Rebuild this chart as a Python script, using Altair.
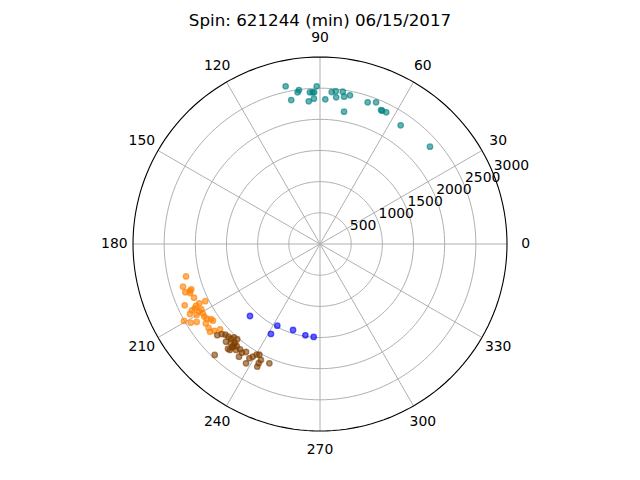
import altair as alt
import pandas as pd
import numpy as np

TITLE = "Spin: 621244 (min) 06/15/2017"

teal_theta = [102.3, 97.8, 98.4, 91.2, 93.8, 92.8, 92.2, 101.3, 94.5, 92.4, 87.9, 85.6, 84.1,
              81.5, 83.7, 80.7, 78.6, 79.7, 71.4, 68.4, 65.5, 65.0, 63.3, 55.8, 41.5]
teal_r = [2589, 2493, 2460, 2530, 2439, 2437, 2435, 2355, 2296, 2333, 2323, 2445, 2462,
          2470, 2368, 2394, 2433, 2157, 2398, 2444, 2362, 2360, 2365, 2302, 2356]

orange_theta = [193.6, 197.3, 199.7, 199.8, 199.4, 200.7, 203.1, 204.4, 206.5, 207.2, 206.2,
                206.5, 207.4, 208.3, 209.1, 209.9, 210.6, 212.1, 213.4, 214.6, 209.5, 211.3,
                212.3, 214.8, 217.0, 219.4, 220.5, 218.6, 215.6, 208.8]
orange_r = [2211, 2302, 2296, 2216, 2189, 2229, 2197, 2383, 2222, 2259, 2157,
            2057, 2313, 2369, 2221, 2283, 2186, 2192, 2177, 2125, 2507, 2428,
            2340, 2232, 2237, 2193, 2108, 2257, 2112, 2173]

brown_theta = [221.6, 222.5, 223.8, 225.3, 226.8, 227.3, 229.0, 226.1, 227.9, 229.5, 230.8,
               228.7, 229.6, 231.6, 232.8, 234.3, 235.6, 234.3, 238.2, 238.3, 239.2, 240.2,
               241.3, 243.0, 242.8, 242.9, 247.0, 226.5, 229.8, 229.3, 229.6]
brown_r = [2204, 2138, 2103, 2092, 2085, 2036, 2024, 2175, 2135, 2124, 2113,
           2236, 2177, 2169, 2121, 2146, 2100, 2226, 2252, 2156, 2106, 2045,
           2025, 2088, 2151, 2210, 2079, 2454, 2156, 2090, 2231]

blue_theta = [225.8, 242.4, 241.4, 252.6, 260.9, 266.1]
blue_r = [1611, 1479, 1644, 1446, 1483, 1495]

series_names = ["orange", "brown", "blue", "teal"]
series_colors = ["#ff8000", "#7f3f00", "#0000ff", "#008080"]

ring_values = [500, 1000, 1500, 2000, 2500]
outer_r = 3000
spoke_angles = list(range(0, 360, 30))
radial_label_angle = 22.5
angle_label_r = 3300

# ---------- data tables ----------
pts = pd.concat([
    pd.DataFrame({"theta": orange_theta, "r": orange_r, "s": "orange"}),
    pd.DataFrame({"theta": brown_theta, "r": brown_r, "s": "brown"}),
    pd.DataFrame({"theta": blue_theta, "r": blue_r, "s": "blue"}),
    pd.DataFrame({"theta": teal_theta, "r": teal_r, "s": "teal"}),
], ignore_index=True)
pts["order"] = pts["s"].map({n: i for i, n in enumerate(series_names)})

circle_steps = list(range(0, 361, 2))
rings = pd.DataFrame([{"r": rv, "theta": a, "k": a} for rv in ring_values for a in circle_steps])
outer = pd.DataFrame({"r": outer_r, "theta": circle_steps, "k": circle_steps})
spokes = pd.DataFrame({"theta": spoke_angles, "r": outer_r})
angle_labels = pd.DataFrame({"theta": spoke_angles, "r": angle_label_r,
                             "label": [str(a) for a in spoke_angles]})
rlabels = pd.DataFrame({"r": ring_values + [outer_r], "theta": radial_label_angle,
                        "label": [str(v) for v in ring_values + [outer_r]]})

X = alt.Scale(domain=[-outer_r, outer_r], nice=False, zero=False)
Y = alt.Scale(domain=[-outer_r, outer_r], nice=False, zero=False)

def polar(ch):
    return ch.transform_calculate(
        px="datum.r * cos(datum.theta * PI / 180)",
        py="datum.r * sin(datum.theta * PI / 180)",
    )

xenc = alt.X("px:Q", scale=X, axis=None)
yenc = alt.Y("py:Q", scale=Y, axis=None)

grid_col = "#b0b0b0"
font = "DejaVu Sans"

ring_layer = polar(alt.Chart(rings).mark_line(color=grid_col, strokeWidth=1, clip=False)).encode(
    x=xenc, y=yenc, detail="r:N", order="k:Q")

spoke_layer = alt.Chart(spokes).mark_rule(color=grid_col, strokeWidth=1).transform_calculate(
    x0="0", y0="0",
    px="datum.r * cos(datum.theta * PI / 180)",
    py="datum.r * sin(datum.theta * PI / 180)",
).encode(
    x=alt.X("x0:Q", scale=X, axis=None), y=alt.Y("y0:Q", scale=Y, axis=None),
    x2="px:Q", y2="py:Q")

outer_layer = polar(alt.Chart(outer).mark_line(color="black", strokeWidth=1.1, clip=False)).encode(
    x=xenc, y=yenc, order="k:Q")

cscale = alt.Scale(domain=series_names, range=series_colors)
points_layer = polar(alt.Chart(pts).mark_point(
    shape="circle", filled=True, size=30, fillOpacity=0.6, strokeOpacity=0.6, strokeWidth=1.3)).encode(
    x=xenc, y=yenc,
    fill=alt.Fill("s:N", scale=cscale, legend=None),
    stroke=alt.Stroke("s:N", scale=cscale, legend=None),
    order="order:Q")

angle_text = polar(alt.Chart(angle_labels).mark_text(
    font=font, fontSize=13.9, align="center", baseline="middle", color="black")).encode(
    x=xenc, y=yenc, text="label:N")

r_text = polar(alt.Chart(rlabels).mark_text(
    font=font, fontSize=13.9, align="left", baseline="bottom", color="black", dx=1, dy=1)).encode(
    x=xenc, y=yenc, text="label:N")

chart = alt.layer(ring_layer, spoke_layer, outer_layer, points_layer, angle_text, r_text).properties(
    width=374, height=374,
    title=alt.TitleParams(TITLE, font=font, fontSize=16.7, fontWeight="normal",
                          anchor="middle", color="black", offset=2, frame="group"),
    autosize=alt.AutoSizeParams(type="none"),
    padding={"left": 125, "top": 49, "right": 125, "bottom": 49},
).configure_view(stroke=None)

chart.save("out.html", embed_options={"renderer": "svg", "actions": False})
